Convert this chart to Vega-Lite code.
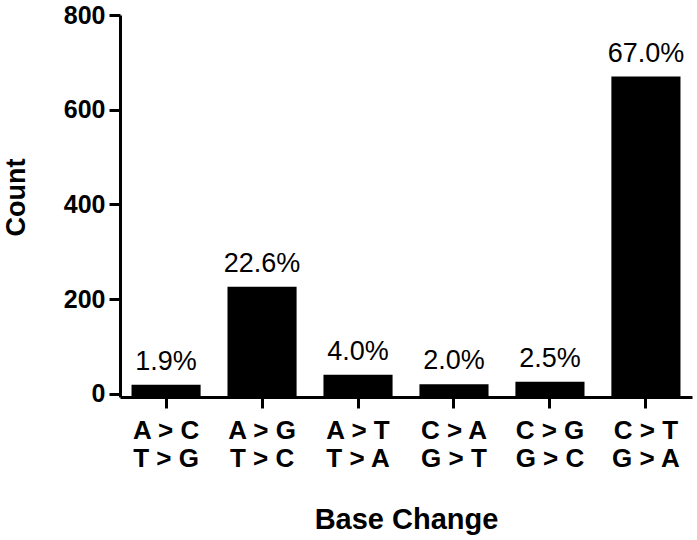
{
  "$schema": "https://vega.github.io/schema/vega-lite/v6.json",
  "width": 572,
  "height": 382,
  "autosize": {"type": "none"},
  "padding": {"left": 120, "top": 15, "right": 5, "bottom": 143},
  "config": {"view": {"stroke": null}, "font": "Liberation Sans"},
  "data": {
    "values": [
      {"change": "A > C/T > G", "count": 19, "pct": "1.9%"},
      {"change": "A > G/T > C", "count": 226, "pct": "22.6%"},
      {"change": "A > T/T > A", "count": 40, "pct": "4.0%"},
      {"change": "C > A/G > T", "count": 20, "pct": "2.0%"},
      {"change": "C > G/G > C", "count": 25, "pct": "2.5%"},
      {"change": "C > T/G > A", "count": 670, "pct": "67.0%"}
    ]
  },
  "encoding": {
    "x": {
      "field": "change",
      "type": "nominal",
      "sort": null,
      "scale": {"paddingInner": 0.28, "paddingOuter": 0.12},
      "axis": {
        "title": "Base Change",
        "titleFontSize": 29,
        "titleFontWeight": "bold",
        "titleColor": "black",
        "titleX": 286,
        "titleY": 131,
        "titleBaseline": "alphabetic",
        "labelAngle": 0,
        "labelFontSize": 26,
        "labelFontWeight": "bold",
        "labelColor": "black",
        "labelLineHeight": 28.5,
        "labelBaseline": "alphabetic",
        "labelPadding": 30,
        "labelExpr": "split(datum.label, '/')",
        "domainColor": "black",
        "domainWidth": 3,
        "tickColor": "black",
        "tickWidth": 3,
        "tickSize": 11
      }
    }
  },
  "layer": [
    {
      "mark": {"type": "bar", "color": "black"},
      "encoding": {
        "y": {
          "field": "count",
          "type": "quantitative",
          "scale": {"domain": [-7, 800], "nice": false, "zero": false},
          "axis": {
            "values": [0, 200, 400, 600, 800],
            "grid": false,
            "title": "Count",
            "titleFontSize": 27,
            "titleFontWeight": "bold",
            "titleColor": "black",
            "titleX": -96,
            "titleY": 182,
            "titleBaseline": "alphabetic",
            "labelFontSize": 25,
            "labelFontWeight": "bold",
            "labelColor": "black",
            "labelPadding": 4,
            "domainColor": "black",
            "domainWidth": 3,
            "tickColor": "black",
            "tickWidth": 3,
            "tickSize": 11
          }
        },
        "y2": {"datum": -7}
      }
    },
    {
      "mark": {"type": "text", "baseline": "alphabetic", "dy": -15, "fontSize": 27, "color": "black"},
      "encoding": {
        "y": {"field": "count", "type": "quantitative"},
        "text": {"field": "pct"}
      }
    }
  ]
}
